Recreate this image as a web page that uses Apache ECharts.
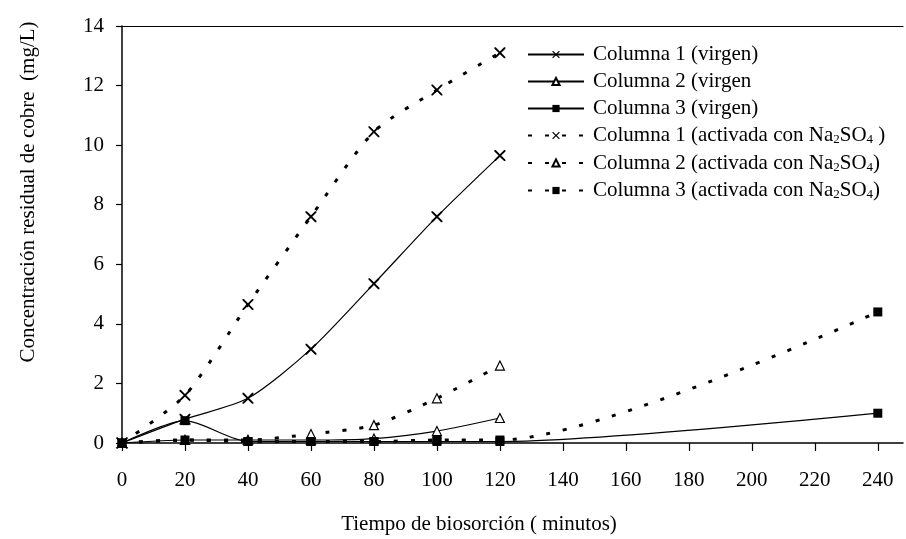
<!DOCTYPE html>
<html>
<head>
<meta charset="utf-8">
<script src="https://cdn.jsdelivr.net/npm/echarts@6/dist/echarts.min.js"></script>
<style>
  html, body { margin: 0; padding: 0; background: #fff; }
  #chart { width: 906px; height: 539px; }
</style>
</head>
<body>
<div id="chart"></div>
<script>
// Sampling times (minutes)
const tiempos = [0, 20, 40, 60, 80, 100, 120, 240];
const tickTiempos = [0, 20, 40, 60, 80, 100, 120, 140, 160, 180, 200, 220, 240];

// Residual copper concentration (mg/L)
const col1Virgen = [0, 0.8, 1.5, 3.15, 5.35, 7.6, 9.65];
const col2Virgen = [0, 0.1, 0.1, 0.1, 0.15, 0.4, 0.84];
const col3Virgen = [0, 0.75, 0.05, 0.05, 0.05, 0.05, 0.05, 1.0];
const col1Activada = [0, 1.6, 4.65, 7.6, 10.45, 11.85, 13.1];
const col2Activada = [0, 0.1, 0.1, 0.3, 0.6, 1.5, 2.6];
const col3Activada = [0, 0.1, 0.05, 0.05, 0.05, 0.1, 0.1, 4.4];

const seriesNames = [
  'Columna 1 (virgen)',
  'Columna 2 (virgen',
  'Columna 3 (virgen)',
  'Columna 1 (activada con Na2SO4 )',
  'Columna 2 (activada con Na2SO4)',
  'Columna 3 (activada con Na2SO4)'
];
const legendLabels = [
  'Columna 1 (virgen)',
  'Columna 2 (virgen',
  'Columna 3 (virgen)',
  'Columna 1 (activada con Na{s|2}SO{s|4} )',
  'Columna 2 (activada con Na{s|2}SO{s|4})',
  'Columna 3 (activada con Na{s|2}SO{s|4})'
];

const FONT = '"Liberation Serif", "Times New Roman", serif';
const FS = 21;
const crossPath = 'path://M0,0 L1.2,0 L5,3.8 L8.8,0 L10,0 L10,1.2 L6.2,5 L10,8.8 L10,10 L8.8,10 L5,6.2 L1.2,10 L0,10 L0,8.8 L3.8,5 L0,1.2 Z';

function pares(vals) {
  return vals.map((v, i) => [tiempos[i], v]);
}

const solid = { color: '#000', width: 1.2, type: 'solid' };
const dotted = { color: '#000', width: 3, type: [4, 13] };

function serie(name, vals, symbol, size, itemStyle, lineStyle) {
  return {
    name: name,
    type: 'line',
    data: pares(vals),
    smooth: 0.25,
    symbol: symbol,
    symbolSize: size,
    showAllSymbol: true,
    itemStyle: itemStyle,
    lineStyle: lineStyle,
    emphasis: { disabled: true },
    z: 3
  };
}

const crossStyle = { color: '#000' };
const triStyle = { color: '#fff', borderColor: '#000', borderWidth: 1.2 };
const sqStyle = { color: '#000' };

const option = {
  animation: false,
  backgroundColor: '#fff',
  textStyle: { fontFamily: FONT, color: '#000' },
  grid: { left: 122, top: 26, right: 3, bottom: 96 },
  legend: {
    orient: 'vertical',
    left: 522,
    top: 39,
    itemWidth: 56,
    itemHeight: 9,
    itemGap: 6,
    data: seriesNames,
    formatter: function (name) { return legendLabels[seriesNames.indexOf(name)]; },
    textStyle: {
      fontFamily: FONT,
      fontSize: FS,
      color: '#000',
      lineHeight: 21,
      padding: [0, 0, 0, 4],
      rich: {
        s: { fontFamily: FONT, fontSize: 13, padding: [9, 0, 0, 0], color: '#000' }
      }
    }
  },
  xAxis: [{
    type: 'value',
    min: 0,
    max: 248,
    interval: 20,
    axisLine: { show: true, lineStyle: { color: '#000', width: 1.5 } },
    axisTick: { show: true, inside: false, length: 8, customValues: tickTiempos, lineStyle: { color: '#000', width: 1.2 } },
    axisLabel: { margin: 27, fontFamily: FONT, fontSize: FS, color: '#000', customValues: tickTiempos },
    splitLine: { show: false }
  }, {
    type: 'value',
    position: 'top',
    min: 0,
    max: 248,
    axisLine: { show: true, onZero: false, lineStyle: { color: '#000', width: 1.2 } },
    axisTick: { show: false },
    axisLabel: { show: false },
    splitLine: { show: false }
  }],
  yAxis: {
    type: 'value',
    min: 0,
    max: 14,
    interval: 2,
    axisLine: { show: true, lineStyle: { color: '#000', width: 1.5 } },
    axisTick: { show: true, inside: false, length: 6, lineStyle: { color: '#000', width: 1.2 } },
    axisLabel: { margin: 18, fontFamily: FONT, fontSize: FS, color: '#000' },
    splitLine: { show: false }
  },
  graphic: [{
    type: 'text',
    x: 28,
    y: 192,
    rotation: Math.PI / 2,
    style: {
      text: 'Concentración residual de cobre  (mg/L)',
      font: FS + 'px ' + FONT,
      fill: '#000',
      align: 'center',
      verticalAlign: 'middle'
    }
  }, {
    type: 'text',
    x: 479,
    y: 524,
    style: {
      text: 'Tiempo de biosorción ( minutos)',
      font: FS + 'px ' + FONT,
      fill: '#000',
      align: 'center',
      verticalAlign: 'middle'
    }
  }],
  series: [
    serie(seriesNames[0], col1Virgen, crossPath, 11, crossStyle, solid),
    serie(seriesNames[1], col2Virgen, 'triangle', 9, triStyle, solid),
    serie(seriesNames[2], col3Virgen, 'rect', 9, sqStyle, solid),
    serie(seriesNames[3], col1Activada, crossPath, 11, crossStyle, dotted),
    serie(seriesNames[4], col2Activada, 'triangle', 9, triStyle, dotted),
    serie(seriesNames[5], col3Activada, 'rect', 9, sqStyle, dotted)
  ]
};

const chart = echarts.init(document.getElementById('chart'), null, { renderer: 'canvas' });
chart.setOption(option);
</script>
</body>
</html>
